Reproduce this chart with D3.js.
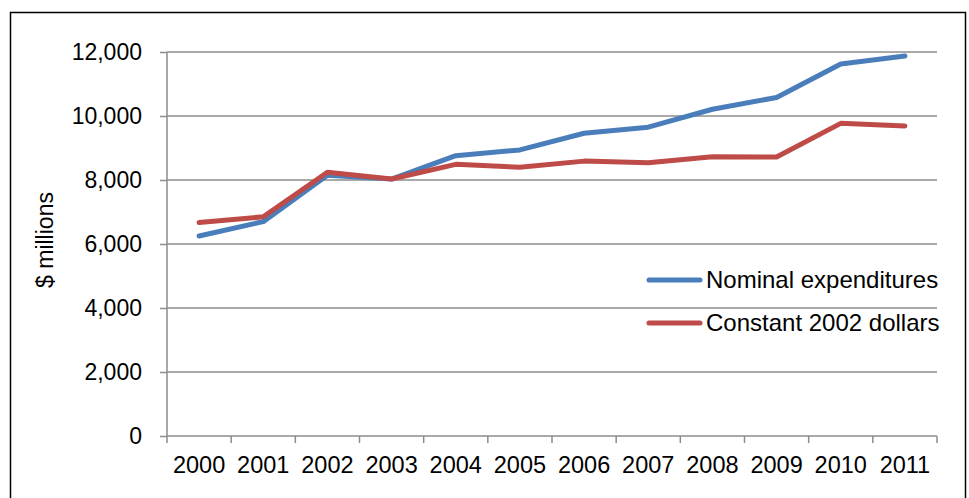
<!DOCTYPE html>
<html>
<head>
<meta charset="utf-8">
<script src="https://cdn.jsdelivr.net/npm/d3@7"></script>
<style>
  body { margin: 0; background: #fff; }
  svg text { font-family: "Liberation Sans", Arial, sans-serif; fill: #000; }
</style>
</head>
<body>
<svg id="vis" width="969" height="498"></svg>
<script>
// chart data
const YEARS = ["2000", "2001", "2002", "2003", "2004", "2005", "2006", "2007", "2008", "2009", "2010", "2011"];
const NOMINAL = [6250, 6700, 8150, 8030, 8760, 8940, 9460, 9650, 10210, 10580, 11625, 11875];
const CONSTANT = [6670, 6850, 8240, 8030, 8490, 8400, 8590, 8540, 8730, 8720, 9770, 9690];
const Y_TICKS = [0, 2000, 4000, 6000, 8000, 10000, 12000];
const SERIES_NAMES = ["Nominal expenditures", "Constant 2002 dollars"];
const COLOURS = ["#4a7ebb", "#be4b48"];

const PLOT = {left: 167, right: 937, top: 52, bottom: 436};

var svg = d3.select("#vis");

// outer frame
svg.append("rect")
    .attr("x", 10.5).attr("y", 12.5)
    .attr("width", 955).attr("height", 500)
    .attr("fill", "none").attr("stroke", "#000").attr("stroke-width", 1.5);

var x = d3.scaleBand().domain(YEARS).range([PLOT.left, PLOT.right]);
var y = d3.scaleLinear().domain([0, 12000]).range([PLOT.bottom, PLOT.top]);

// gridlines
svg.append("g").selectAll("line")
    .data(Y_TICKS.filter(d => d > 0))
    .enter().append("line")
    .attr("x1", PLOT.left).attr("x2", PLOT.right)
    .attr("y1", d => y(d)).attr("y2", d => y(d))
    .attr("stroke", "#8c8c8c").attr("stroke-width", 1.5);

// y axis
var yAxis = svg.append("g")
    .attr("transform", `translate(${PLOT.left},0)`)
    .call(d3.axisLeft(y).tickValues(Y_TICKS).tickSize(7).tickPadding(18)
        .tickFormat(d3.format(",")));
yAxis.select(".domain").attr("stroke", "#8c8c8c").attr("stroke-width", 1.5)
    .attr("d", `M0,${PLOT.top}V${PLOT.bottom}`);
yAxis.selectAll(".tick line").attr("stroke", "#8c8c8c").attr("stroke-width", 1.5);
yAxis.selectAll(".tick text").style("font-size", "23px").attr("fill", "#000");

// x axis, ticks on the band edges
var xAxis = svg.append("g")
    .attr("transform", `translate(0,${PLOT.bottom})`)
    .call(d3.axisBottom(x).tickSize(0).tickPadding(20));
xAxis.select(".domain").attr("stroke", "#8c8c8c").attr("stroke-width", 1.5)
    .attr("d", `M${PLOT.left},0H${PLOT.right}`);
xAxis.selectAll(".tick text").style("font-size", "23.5px").attr("fill", "#000");
xAxis.selectAll(".edge")
    .data(YEARS.concat(["end"]))
    .enter().append("line")
    .attr("class", "edge")
    .attr("x1", (d, i) => PLOT.left + i * x.bandwidth())
    .attr("x2", (d, i) => PLOT.left + i * x.bandwidth())
    .attr("y1", 0).attr("y2", 7)
    .attr("stroke", "#8c8c8c").attr("stroke-width", 1.5);

// y label
svg.append("text")
    .attr("transform", "translate(53,240) rotate(-90)")
    .style("text-anchor", "middle")
    .style("font-size", "23px")
    .text("$ millions");

// lines
var line = d3.line()
    .x((d, i) => x(YEARS[i]) + x.bandwidth() / 2)
    .y(d => y(d));

[NOMINAL, CONSTANT].forEach(function (values, i) {
    svg.append("path")
        .datum(values)
        .attr("fill", "none")
        .attr("stroke", COLOURS[i])
        .attr("stroke-width", 5)
        .attr("stroke-linecap", "round")
        .attr("stroke-linejoin", "round")
        .attr("d", line);
});

// legend
var legend = svg.selectAll(".legend")
    .data(SERIES_NAMES)
    .enter().append("g")
    .attr("class", "legend")
    .attr("transform", (d, i) => `translate(0,${280 + i * 43})`);

legend.append("line")
    .attr("x1", 649).attr("x2", 700)
    .attr("y1", 0).attr("y2", 0)
    .attr("stroke", (d, i) => COLOURS[i])
    .attr("stroke-width", 5)
    .attr("stroke-linecap", "round");

legend.append("text")
    .attr("x", 706).attr("y", 0)
    .attr("dy", "0.35em")
    .style("font-size", "24px")
    .text(d => d);
</script>
</body>
</html>
